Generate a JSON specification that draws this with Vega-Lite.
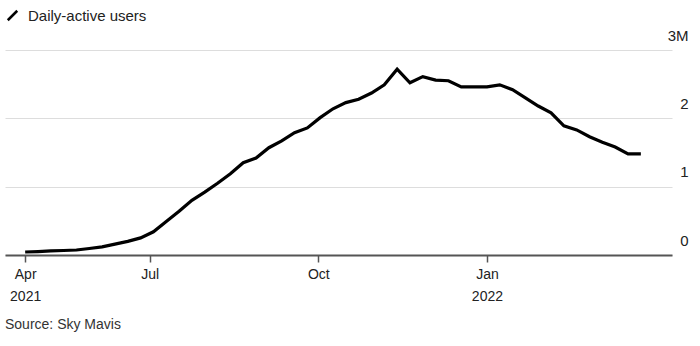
{
  "$schema": "https://vega.github.io/schema/vega-lite/v6.json",
  "autosize": "none",
  "width": 667,
  "height": 205,
  "padding": {"left": 5, "top": 50, "right": 28, "bottom": 91},
  "background": "white",
  "config": {"view": {"stroke": null}, "font": "Liberation Sans"},
  "title": {
    "text": "Source: Sky Mavis",
    "orient": "bottom",
    "anchor": "start",
    "frame": "group",
    "font": "Liberation Sans",
    "fontSize": 14,
    "fontWeight": "normal",
    "color": "#333",
    "offset": 15
  },
  "data": {
    "values": [
      {"date": "2021-04-24", "users": 0.044},
      {"date": "2021-05-01", "users": 0.05},
      {"date": "2021-05-08", "users": 0.06},
      {"date": "2021-05-15", "users": 0.066},
      {"date": "2021-05-22", "users": 0.073},
      {"date": "2021-05-29", "users": 0.095},
      {"date": "2021-06-05", "users": 0.12},
      {"date": "2021-06-12", "users": 0.16},
      {"date": "2021-06-19", "users": 0.2},
      {"date": "2021-06-26", "users": 0.25},
      {"date": "2021-07-03", "users": 0.34},
      {"date": "2021-07-10", "users": 0.49},
      {"date": "2021-07-17", "users": 0.64},
      {"date": "2021-07-24", "users": 0.8},
      {"date": "2021-07-31", "users": 0.92},
      {"date": "2021-08-07", "users": 1.05},
      {"date": "2021-08-14", "users": 1.19},
      {"date": "2021-08-21", "users": 1.35},
      {"date": "2021-08-28", "users": 1.42},
      {"date": "2021-09-04", "users": 1.57},
      {"date": "2021-09-11", "users": 1.67},
      {"date": "2021-09-18", "users": 1.79},
      {"date": "2021-09-25", "users": 1.86},
      {"date": "2021-10-02", "users": 2.01},
      {"date": "2021-10-09", "users": 2.14},
      {"date": "2021-10-16", "users": 2.23},
      {"date": "2021-10-23", "users": 2.28},
      {"date": "2021-10-30", "users": 2.37},
      {"date": "2021-11-06", "users": 2.49},
      {"date": "2021-11-13", "users": 2.72},
      {"date": "2021-11-20", "users": 2.52},
      {"date": "2021-11-27", "users": 2.61},
      {"date": "2021-12-04", "users": 2.56},
      {"date": "2021-12-11", "users": 2.55},
      {"date": "2021-12-18", "users": 2.46},
      {"date": "2021-12-25", "users": 2.46},
      {"date": "2022-01-01", "users": 2.46},
      {"date": "2022-01-08", "users": 2.49},
      {"date": "2022-01-15", "users": 2.42},
      {"date": "2022-01-22", "users": 2.3},
      {"date": "2022-01-29", "users": 2.18},
      {"date": "2022-02-05", "users": 2.08},
      {"date": "2022-02-12", "users": 1.89},
      {"date": "2022-02-19", "users": 1.83},
      {"date": "2022-02-26", "users": 1.73},
      {"date": "2022-03-05", "users": 1.65},
      {"date": "2022-03-12", "users": 1.58},
      {"date": "2022-03-19", "users": 1.48},
      {"date": "2022-03-26", "users": 1.48}
    ]
  },
  "mark": {"type": "line", "strokeWidth": 3.2, "strokeJoin": "miter", "strokeCap": "butt"},
  "encoding": {
    "x": {
      "field": "date",
      "type": "temporal",
      "scale": {"type": "utc", "domain": ["2021-04-13", "2022-04-12"]},
      "axis": {
        "title": null,
        "values": [
          {"year": 2021, "month": 4, "date": 24, "utc": true},
          {"year": 2021, "month": 7, "date": 1, "utc": true},
          {"year": 2021, "month": 10, "date": 1, "utc": true},
          {"year": 2022, "month": 1, "date": 1, "utc": true}
        ],
        "labelExpr": "utcmonth(datum.value)==3 ? ['Apr','2021'] : utcmonth(datum.value)==0 ? ['Jan','2022'] : utcFormat(datum.value,'%b')",
        "labelFont": "Liberation Sans",
        "labelFontSize": 14,
        "labelColor": "#222",
        "labelLineHeight": 22,
        "labelPadding": 5,
        "labelBaseline": "top",
        "domainColor": "#555",
        "domainWidth": 2,
        "tickColor": "#555",
        "tickWidth": 1.5,
        "tickSize": 7,
        "grid": false,
        "labelFlush": false,
        "labelOverlap": false
      }
    },
    "y": {
      "field": "users",
      "type": "quantitative",
      "scale": {"domain": [0, 3], "nice": false},
      "axis": {
        "title": null,
        "orient": "right",
        "values": [0, 1, 2, 3],
        "labelExpr": "datum.value==3 ? '3M' : datum.label",
        "labelFont": "Liberation Sans",
        "labelFontSize": 15,
        "labelColor": "#222",
        "labelAlign": "right",
        "labelBaseline": "bottom",
        "labelOffset": -7,
        "labelPadding": 16,
        "ticks": false,
        "domain": false,
        "grid": true,
        "gridColor": "#ddd",
        "gridWidth": 1
      }
    },
    "color": {
      "datum": "Daily-active users",
      "scale": {"range": ["#000"]},
      "legend": {
        "title": null,
        "orient": "none",
        "legendX": 0,
        "legendY": -42,
        "symbolType": "M-1,1L1,-1",
        "symbolStrokeWidth": 2.5,
        "symbolSize": 90,
        "symbolStrokeColor": "#000",
        "labelFont": "Liberation Sans",
        "labelFontSize": 15,
        "labelColor": "#222",
        "labelOffset": 8
      }
    }
  }
}
